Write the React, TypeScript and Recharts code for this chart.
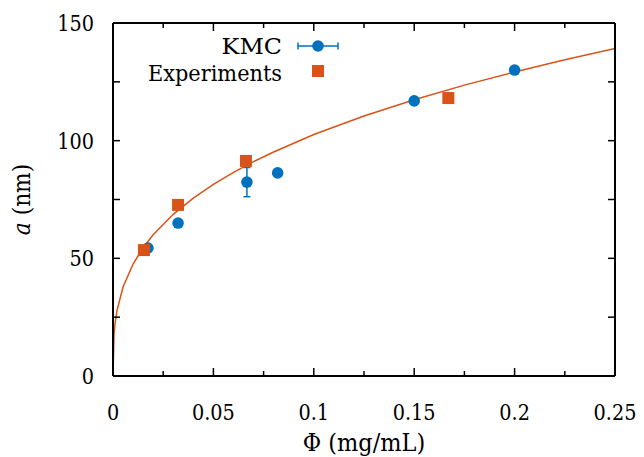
import { ComposedChart, Scatter, Line, XAxis, YAxis, ErrorBar } from "recharts";

// KMC simulation results
const kmcPhi = [0.0174, 0.0324, 0.0667, 0.082, 0.15, 0.2];
const kmcA = [54.4, 65.0, 82.4, 86.3, 116.9, 130.0];
const kmcErr = [0, 0, 6.2, 0, 0, 0];

// experimental values
const expPhi = [0.0154, 0.0324, 0.0662, 0.167];
const expA = [53.5, 72.7, 91.4, 118.1];

// fitted curve, sampled along its length
const fitPhi = [0, 0.0005, 0.001, 0.002, 0.005, 0.01, 0.015, 0.02, 0.03, 0.04, 0.05, 0.06, 0.07, 0.08, 0.1, 0.125, 0.15, 0.175, 0.2, 0.225, 0.25];
const fitA = [0, 17.5, 22.1, 27.9, 37.8, 47.6, 54.5, 60.0, 68.7, 75.6, 81.4, 86.5, 91.1, 95.2, 102.6, 110.5, 117.4, 123.6, 129.2, 134.4, 139.2];

const xTicks = [0, 0.025, 0.05, 0.075, 0.1, 0.125, 0.15, 0.175, 0.2, 0.225, 0.25];
const xLabels = ["0", "", "0.05", "", "0.1", "", "0.15", "", "0.2", "", "0.25"];
const yTicks = [0, 25, 50, 75, 100, 125, 150];
const yLabels = ["0", "", "50", "", "100", "", "150"];

const kmcData = kmcPhi.map((phi, i) => ({ phi, a: kmcA[i], err: kmcErr[i] }));
const expData = expPhi.map((phi, i) => ({ phi, a: expA[i] }));
const fitData = fitPhi.map((phi, i) => ({ phi, a: fitA[i] }));

const BLUE = "#0072BD";
const ORANGE = "#D95319";
const SERIF = "'DejaVu Serif', serif";

// Times-like advance widths (em) so the wider DejaVu glyphs can be squeezed to a Times run length
const TIMES: Record<string, number> = {
  "0": 0.5, "1": 0.5, "2": 0.5, "5": 0.5, ".": 0.25, " ": 0.25, "(": 0.333, ")": 0.333, "/": 0.278,
  K: 0.722, M: 0.889, C: 0.667, E: 0.611, L: 0.611, "Φ": 0.76,
  a: 0.5, e: 0.444, g: 0.5, i: 0.278, m: 0.778, n: 0.5, p: 0.5, r: 0.333, s: 0.389, t: 0.278, x: 0.5,
};
const runLength = (s: string, size: number) => [...s].reduce((w, c) => w + (TIMES[c] ?? 0.5), 0) * size;

const TICK = 24.5;
const TITLE = 26.5;

function Txt({ x, y, s, size, w, anchor = "middle", transform, children }: any) {
  return (
    <text
      x={x}
      y={y}
      transform={transform}
      textAnchor={anchor}
      fontFamily={SERIF}
      fontSize={size * 0.91}
      fill="#000"
      textLength={runLength(s, w ?? size)}
      lengthAdjust="spacingAndGlyphs"
    >
      {children ?? s}
    </text>
  );
}

const xLabelOf = (v: number) => xLabels[xTicks.findIndex((t) => Math.abs(t - v) < 1e-9)] ?? "";
const yLabelOf = (v: number) => yLabels[yTicks.findIndex((t) => Math.abs(t - v) < 1e-9)] ?? "";

function BottomTick({ x, y, payload }: any) {
  const label = xLabelOf(payload.value);
  return (
    <g>
      <line x1={x} y1={y} x2={x} y2={y - (label ? 8 : 5)} stroke="#000" strokeWidth={1.5} />
      {label && <Txt x={x} y={y + 44} s={label} size={TICK} />}
    </g>
  );
}

function TopTick({ x, y, payload }: any) {
  const major = xLabelOf(payload.value) !== "";
  return <line x1={x} y1={y} x2={x} y2={y + (major ? 8 : 5)} stroke="#000" strokeWidth={1.5} />;
}

function LeftTick({ x, y, payload }: any) {
  const label = yLabelOf(payload.value);
  return (
    <g>
      <line x1={x} y1={y} x2={x + 7} y2={y} stroke="#000" strokeWidth={1.5} />
      {label && <Txt x={x - 19} y={y + 8} s={label} size={TICK} anchor="end" />}
    </g>
  );
}

function RightTick({ x, y }: any) {
  return <line x1={x} y1={y} x2={x - 7} y2={y} stroke="#000" strokeWidth={1.5} />;
}

function YTitle({ viewBox }: any) {
  const cy = viewBox.y + viewBox.height / 2;
  return (
    <Txt x={30} y={cy} s="a (nm)" size={TITLE} transform={`rotate(-90 30 ${cy})`}>
      <tspan fontStyle="italic">a</tspan> (nm)
    </Txt>
  );
}

function XTitle({ viewBox }: any) {
  const cx = viewBox.x + viewBox.width / 2;
  return <Txt x={cx} y={451} s="Φ (mg/mL)" size={TITLE} />;
}

const Dot = ({ cx, cy }: any) => <circle cx={cx} cy={cy} r={5.8} fill={BLUE} />;
const Square = ({ cx, cy }: any) => <rect x={cx - 6} y={cy - 6} width={12} height={12} fill={ORANGE} />;

const axisLine = { stroke: "#000", strokeWidth: 2 };

export default function App() {
  return (
    <div style={{ position: "absolute", left: 0, top: 0, width: 644, height: 457, background: "#fff" }}>
      <ComposedChart width={644} height={457} margin={{ top: 0, right: 0, bottom: 0, left: 0 }}>
        <XAxis
          dataKey="phi"
          type="number"
          domain={[0, 0.25]}
          ticks={xTicks}
          interval={0}
          allowDataOverflow
          height={81}
          tickSize={0}
          tickMargin={0}
          tickLine={false}
          axisLine={axisLine}
          tick={<BottomTick />}
          label={<XTitle />}
        />
        <XAxis
          xAxisId="top"
          orientation="top"
          dataKey="phi"
          type="number"
          domain={[0, 0.25]}
          ticks={xTicks}
          interval={0}
          allowDataOverflow
          height={23}
          tickSize={0}
          tickMargin={0}
          tickLine={false}
          axisLine={axisLine}
          tick={<TopTick />}
        />
        <YAxis
          dataKey="a"
          type="number"
          domain={[0, 150]}
          ticks={yTicks}
          interval={0}
          allowDataOverflow
          width={113}
          tickSize={0}
          tickMargin={0}
          tickLine={false}
          axisLine={axisLine}
          tick={<LeftTick />}
          label={<YTitle />}
        />
        <YAxis
          yAxisId="right"
          orientation="right"
          dataKey="a"
          type="number"
          domain={[0, 150]}
          ticks={yTicks}
          interval={0}
          allowDataOverflow
          width={29}
          tickSize={0}
          tickMargin={0}
          tickLine={false}
          axisLine={axisLine}
          tick={<RightTick />}
        />
        <Scatter data={kmcData} dataKey="a" fill={BLUE} shape={<Dot />} isAnimationActive={false}>
          <ErrorBar dataKey="err" direction="y" width={3.5} stroke={BLUE} strokeWidth={1.5} isAnimationActive={false} />
        </Scatter>
        <Line
          data={fitData}
          dataKey="a"
          type="linear"
          stroke={ORANGE}
          strokeWidth={1.5}
          dot={false}
          activeDot={false}
          isAnimationActive={false}
        />
        <Scatter data={expData} dataKey="a" fill={ORANGE} shape={<Square />} isAnimationActive={false} />
      </ComposedChart>

      {/* key */}
      <svg width={644} height={100} style={{ position: "absolute", left: 0, top: 0, pointerEvents: "none" }}>
        <Txt x={282} y={54} s="KMC" size={25} w={TITLE} anchor="end" />
        <line x1={298} y1={46} x2={338} y2={46} stroke={BLUE} strokeWidth={1.5} />
        <line x1={298} y1={42.5} x2={298} y2={49.5} stroke={BLUE} strokeWidth={1.5} />
        <line x1={338} y1={42.5} x2={338} y2={49.5} stroke={BLUE} strokeWidth={1.5} />
        <circle cx={318} cy={46} r={5.8} fill={BLUE} />
        <Txt x={282} y={81} s="Experiments" size={25} w={TITLE} anchor="end" />
        <rect x={312} y={65} width={12} height={12} fill={ORANGE} />
      </svg>
    </div>
  );
}
